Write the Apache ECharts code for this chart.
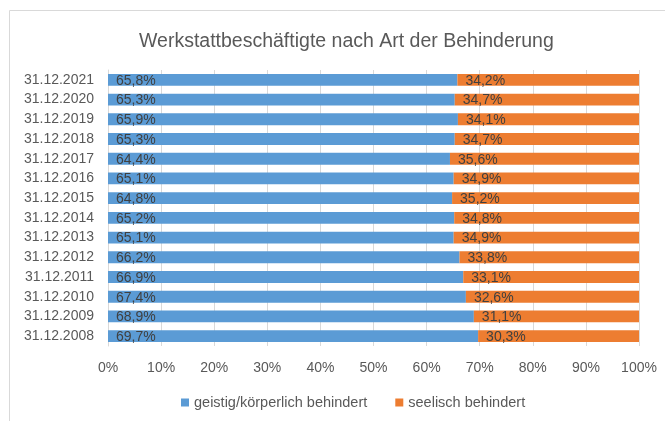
<!DOCTYPE html>
<html>
<head>
<meta charset="utf-8">
<script src="https://cdn.jsdelivr.net/npm/echarts@6/dist/echarts.min.js"></script>
<style>
  html, body { margin: 0; padding: 0; background: #fff; }
  #chart { width: 665px; height: 421px; }
</style>
</head>
<body>
<div id="chart"></div>
<script>
// Stichtage (oben nach unten)
var dates = ['31.12.2021', '31.12.2020', '31.12.2019', '31.12.2018', '31.12.2017', '31.12.2016', '31.12.2015',
  '31.12.2014', '31.12.2013', '31.12.2012', '31.12.2011', '31.12.2010', '31.12.2009', '31.12.2008'];
var geistig = [65.8, 65.3, 65.9, 65.3, 64.4, 65.1, 64.8, 65.2, 65.1, 66.2, 66.9, 67.4, 68.9, 69.7];
var seelisch = [34.2, 34.7, 34.1, 34.7, 35.6, 34.9, 35.2, 34.8, 34.9, 33.8, 33.1, 32.6, 31.1, 30.3];
var xTicks = [0, 10, 20, 30, 40, 50, 60, 70, 80, 90, 100];

var font = 'Liberation Sans';
var chart = echarts.init(document.getElementById('chart'));

function pct(v) {
  return v.toFixed(1).replace('.', ',') + '%';
}

var barLabel = {
  show: true,
  position: 'insideLeft',
  distance: 8,
  offset: [0, 1],
  color: '#404040',
  fontSize: 14,
  fontFamily: font,
  formatter: function (p) { return pct(p.value); }
};

chart.setOption({
  animation: false,
  title: {
    text: 'Werkstattbeschäftigte nach Art der Behinderung',
    left: 134,
    top: 27,
    textStyle: { color: '#595959', fontSize: 19.5, fontWeight: 'normal', fontFamily: font }
  },
  legend: {
    bottom: 6,
    left: 176,
    icon: 'rect',
    itemWidth: 8,
    itemHeight: 8,
    itemGap: 28,
    textStyle: { color: '#595959', fontSize: 14.5, fontFamily: font },
    data: ['geistig/körperlich behindert', 'seelisch behindert']
  },
  grid: { left: 108, right: 26, top: 70, bottom: 75, containLabel: false },
  xAxis: {
    type: 'value',
    min: 0,
    max: xTicks[xTicks.length - 1],
    interval: 10,
    axisLine: { show: false },
    axisTick: { show: false },
    splitLine: { show: true, lineStyle: { color: '#d9d9d9', width: 1 } },
    axisLabel: { color: '#595959', fontSize: 14, fontFamily: font, margin: 15, formatter: '{value}%' }
  },
  yAxis: {
    type: 'category',
    inverse: true,
    data: dates,
    axisLine: { show: true, lineStyle: { color: '#d9d9d9' } },
    axisTick: { show: false },
    axisLabel: { color: '#595959', fontSize: 14, fontFamily: font, margin: 14 }
  },
  series: [
    {
      name: 'geistig/körperlich behindert',
      type: 'bar',
      stack: 'gesamt',
      data: geistig,
      barWidth: '60%',
      itemStyle: { color: '#5b9bd5' },
      label: barLabel
    },
    {
      name: 'seelisch behindert',
      type: 'bar',
      stack: 'gesamt',
      data: seelisch,
      barWidth: '60%',
      itemStyle: { color: '#ed7d31' },
      label: barLabel
    }
  ],
  graphic: [
    {
      type: 'polyline',
      shape: { points: [[9.5, 421], [9.5, 10.5], [665, 10.5]] },
      style: { stroke: '#d9d9d9', lineWidth: 1, fill: null }
    }
  ]
});
</script>
</body>
</html>
